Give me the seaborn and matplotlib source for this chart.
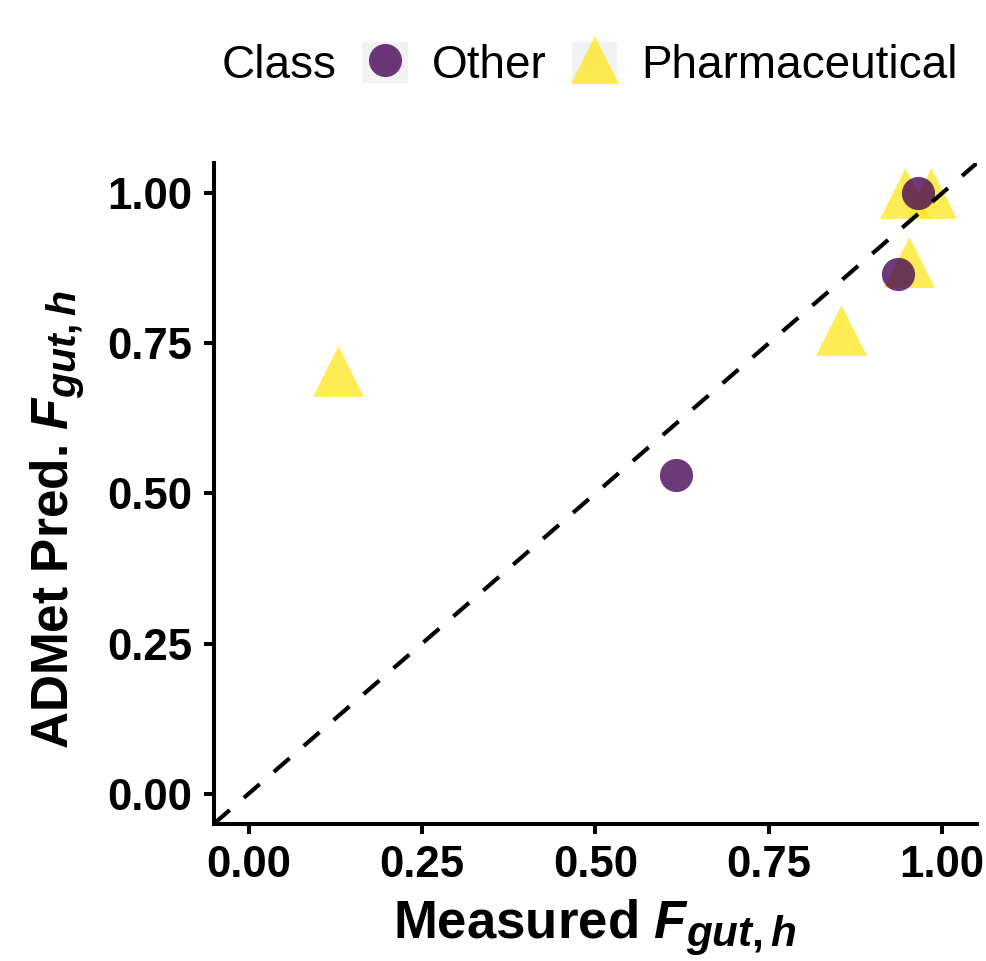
import numpy as np
import pandas as pd
import matplotlib
matplotlib.use("Agg")
import matplotlib.pyplot as plt
import matplotlib._mathtext as _mt
import seaborn as sns
from matplotlib.lines import Line2D
from matplotlib.patches import Patch
from matplotlib.legend_handler import HandlerTuple

# slightly larger subscripts, closer to the reference
_mt.SHRINK_FACTOR = 0.8

# ---- data ----
other_x = [0.617, 0.936, 0.965]
other_y = [0.531, 0.865, 1.0]
pharma_x = [0.129, 0.855, 0.952, 0.946, 0.984]
pharma_y = [0.704, 0.772, 0.885, 1.0, 1.0]
classes = ["Other", "Pharmaceutical"]
tick_values = [0.0, 0.25, 0.50, 0.75, 1.0]
tick_labels = ["0.00", "0.25", "0.50", "0.75", "1.00"]

df = pd.DataFrame({
    "x": other_x + pharma_x,
    "y": other_y + pharma_y,
    "Class": [classes[0]] * len(other_x) + [classes[1]] * len(pharma_x),
})

sns.set_theme(style="white")
plt.rcParams["font.family"] = ["Liberation Sans", "DejaVu Sans"]
plt.rcParams["text.color"] = "black"
plt.rcParams["mathtext.fontset"] = "custom"
plt.rcParams["mathtext.it"] = "Liberation Sans:italic:bold"
plt.rcParams["mathtext.rm"] = "Liberation Sans:bold"
plt.rcParams["mathtext.bf"] = "Liberation Sans:bold"
plt.rcParams["mathtext.default"] = "it"

colors = {"Other": "#440154", "Pharmaceutical": "#FDE725"}
markers = {"Other": "o", "Pharmaceutical": "^"}
sizes = {"Other": 570, "Pharmaceutical": 1340}
alpha = 0.78

fig = plt.figure(figsize=(9.87, 9.61), dpi=100)
ax = fig.add_axes([0.2168, 0.1429, 0.7727, 0.6872])

for cls in ["Pharmaceutical", "Other"]:
    sub = df[df["Class"] == cls]
    sns.scatterplot(data=sub, x="x", y="y", color=colors[cls], marker=markers[cls],
                    s=sizes[cls], alpha=alpha, linewidth=0, ax=ax, legend=False, zorder=3)

ax.axline((0, 0), slope=1, color="black", lw=3.0, ls=(0, (5.0, 4.5)), zorder=4)

ax.set_xlim(-0.05, 1.05)
ax.set_ylim(-0.05, 1.05)
ax.set_xticks(tick_values)
ax.set_xticklabels(tick_labels)
ax.set_yticks(tick_values)
ax.set_yticklabels(tick_labels)
sns.despine(ax=ax)
for sp in ["left", "bottom"]:
    ax.spines[sp].set_linewidth(2.9)
    ax.spines[sp].set_color("black")
ax.tick_params(axis="both", direction="out", length=7.5, width=2.9, color="black",
               labelsize=31.5, pad=8, labelcolor="black", bottom=True, left=True)
for lbl in ax.get_xticklabels() + ax.get_yticklabels():
    lbl.set_fontweight("bold")

ax.set_xlabel(r"Measured $F_{gut,h}$", fontsize=38, fontweight="bold", labelpad=8, color="black")
ax.set_ylabel(r"ADMet Pred. $F_{gut,h}$", fontsize=37, fontweight="bold", color="black")
ax.yaxis.set_label_coords(-0.168, 0.46)

# ---- legend at top ----
fig.text(222 / 987, 1 - 66 / 961, "Class", fontsize=33, va="center", ha="left", color="black")
key_bg = "#f2f2f2"
handles = [
    (Patch(facecolor=key_bg, edgecolor="none"),
     Line2D([], [], marker="o", ls="none", markersize=23.8, markerfacecolor=colors["Other"],
            markeredgewidth=0, alpha=alpha)),
    (Patch(facecolor=key_bg, edgecolor="none"),
     Line2D([], [], marker="^", ls="none", markersize=35, markerfacecolor=colors["Pharmaceutical"],
            markeredgewidth=0, alpha=alpha)),
]
fig.legend(handles, classes, loc="center left", bbox_to_anchor=(362 / 987, 1 - 65 / 961),
           ncol=2, frameon=False, fontsize=33, handlelength=1.0, handleheight=1.0,
           handletextpad=0.52, columnspacing=0.55, borderpad=0, borderaxespad=0,
           labelcolor="black",
           handler_map={tuple: HandlerTuple(ndivide=1)})

fig.savefig("out.png", dpi=100)
